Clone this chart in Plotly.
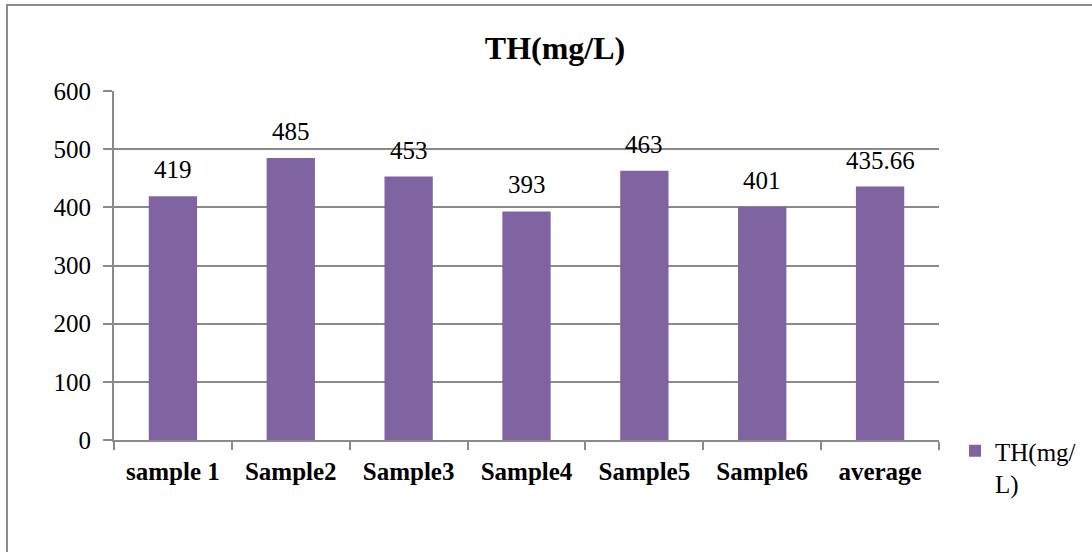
import plotly.graph_objects as go

# Total hardness per sample
categories = ["sample 1", "Sample2", "Sample3", "Sample4", "Sample5", "Sample6", "average"]
th_values = [419, 485, 453, 393, 463, 401, 435.66]
value_labels = ["419", "485", "453", "393", "463", "401", "435.66"]
y_ticks = [0, 100, 200, 300, 400, 500, 600]

SERIF = "Liberation Serif, Times New Roman, serif"
BAR_COLOR = "#8064A2"
GRID_COLOR = "#8a8a8a"

W, H = 1092, 552
L, R, T, B = 114, 153, 91, 112
plot_w = W - L - R
plot_h = H - T - B

fig = go.Figure()
fig.add_trace(go.Bar(
    x=categories,
    y=th_values,
    name="TH(mg/<br>L)",
    marker=dict(color=BAR_COLOR, line=dict(width=0)),
    width=0.41,
    hoverinfo="x+y",
))

# value labels above the bars
for cat, val, lab in zip(categories, th_values, value_labels):
    fig.add_annotation(
        x=cat, y=val, text=lab, showarrow=False,
        xref="x", yref="y", yanchor="bottom", yshift=11,
        font=dict(family=SERIF, size=25, color="#000000"),
    )

# chart-area border
fig.add_shape(
    type="rect", xref="paper", yref="paper",
    x0=(7 - L) / plot_w, x1=2.0,
    y0=-2.0, y1=(H - B - 5) / plot_h,
    line=dict(color="#8c8c8c", width=2),
    fillcolor="rgba(0,0,0,0)", layer="below",
)

fig.update_layout(
    width=W, height=H,
    margin=dict(l=L, r=R, t=T, b=B, autoexpand=False),
    paper_bgcolor="white", plot_bgcolor="white",
    title=dict(
        text="<b>TH(mg/L)</b>", x=555 / W, xanchor="center",
        y=1 - 48 / H, yanchor="middle", xref="container", yref="container",
        font=dict(family=SERIF, size=32, color="#000000"),
    ),
    showlegend=True,
    legend=dict(
        x=(955 - L) / plot_w, xanchor="left",
        y=(H - B - 428) / plot_h, yanchor="top",
        valign="top",
        font=dict(family=SERIF, size=25, color="#000000"),
        bgcolor="rgba(0,0,0,0)", borderwidth=0,
        itemwidth=30,
    ),
    bargap=0.59,
)

fig.update_xaxes(
    type="category",
    showgrid=False,
    showline=True, linecolor=GRID_COLOR, linewidth=2,
    ticks="outside", tickson="boundaries", ticklen=8, tickwidth=2, tickcolor=GRID_COLOR,
    tickfont=dict(family=SERIF, size=25, color="#000000", weight="bold"),
    ticklabelstandoff=8,
    fixedrange=True,
)
fig.update_yaxes(
    range=[0, 600],
    tickvals=y_ticks,
    ticktext=[str(v) for v in y_ticks],
    showgrid=True, gridcolor=GRID_COLOR, gridwidth=2,
    showline=True, linecolor=GRID_COLOR, linewidth=2,
    ticks="outside", ticklen=9, tickwidth=2, tickcolor=GRID_COLOR,
    tickfont=dict(family=SERIF, size=25, color="#000000"),
    ticklabelstandoff=7,
    zeroline=False,
    fixedrange=True,
)

fig.write_html("out.html")
